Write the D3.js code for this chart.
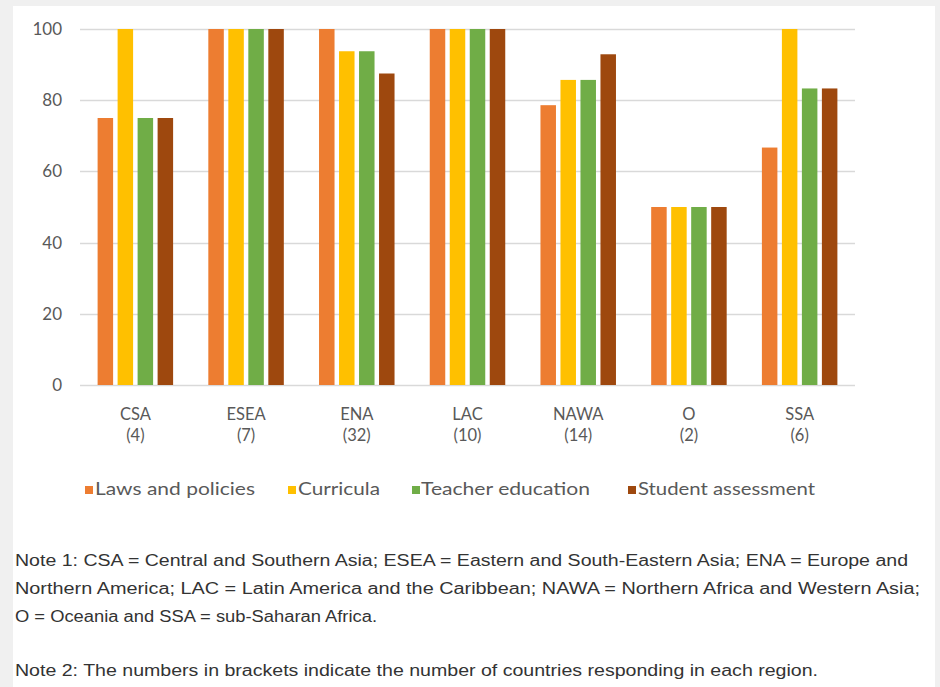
<!DOCTYPE html>
<html>
<head>
<meta charset="utf-8">
<script src="https://cdn.jsdelivr.net/npm/d3@7"></script>
<style>
  html, body { margin: 0; padding: 0; background: #f0f0f0; }
  svg { display: block; }
</style>
</head>
<body>
<svg id="chart" width="940" height="687"></svg>
<script>
// Regions (with number of responding countries) and the four curriculum areas
const regions = ["CSA", "ESEA", "ENA", "LAC", "NAWA", "O", "SSA"];
const respondents = ["(4)", "(7)", "(32)", "(10)", "(14)", "(2)", "(6)"];
const seriesNames = ["Laws and policies", "Curricula", "Teacher education", "Student assessment"];
const seriesColors = ["#ED7D31", "#FFC000", "#70AD47", "#9E480E"];

// Percentage of countries per region, one array per area
const lawsAndPolicies   = [75, 100, 100,   100, 78.6, 50, 66.7];
const curricula         = [100, 100, 93.75, 100, 85.7, 50, 100];
const teacherEducation  = [75, 100, 93.75, 100, 85.7, 50, 83.3];
const studentAssessment = [75, 100, 87.5,  100, 92.9, 50, 83.3];
const seriesValues = [lawsAndPolicies, curricula, teacherEducation, studentAssessment];

const yTicks = [0, 20, 40, 60, 80, 100];

const notes = [
  "Note 1: CSA = Central and Southern Asia; ESEA = Eastern and South-Eastern Asia; ENA = Europe and",
  "Northern America; LAC = Latin America and the Caribbean; NAWA = Northern Africa and Western Asia;",
  "O = Oceania and SSA = sub-Saharan Africa.",
  "Note 2: The numbers in brackets indicate the number of countries responding in each region."
];

const chartFont = "Lato, 'Noto Sans', sans-serif";
const svg = d3.select("#chart");

// white card on a light grey page
svg.append("rect").attr("x", 13).attr("y", 6).attr("width", 922).attr("height", 681).attr("fill", "#ffffff");

const plot = { left: 80, right: 855, top: 29, bottom: 385 };

const x0 = d3.scaleBand().domain(regions).range([plot.left, plot.right]).paddingInner(0).paddingOuter(0);
const x1 = d3.scaleBand().domain(d3.range(seriesNames.length)).range([-40, 40])
  .paddingInner(0.225).paddingOuter(0.1125);
const y = d3.scaleLinear().domain([0, 100]).range([plot.bottom, plot.top]);

// gridlines
svg.append("g").selectAll("line").data(yTicks).join("line")
  .attr("x1", plot.left).attr("x2", plot.right)
  .attr("y1", d => Math.round(y(d)) + 0.5).attr("y2", d => Math.round(y(d)) + 0.5)
  .attr("stroke", "#d9d9d9").attr("stroke-width", 1.3);

// y axis labels
const yAxis = d3.axisLeft(y).tickValues(yTicks).tickSize(0).tickPadding(0);
const yg = svg.append("g").attr("transform", `translate(62,0)`).call(yAxis);
yg.select(".domain").remove();
yg.selectAll("text").attr("font-family", chartFont).attr("font-size", 17)
  .attr("fill", "#595959");

// bars
const groups = svg.append("g").selectAll("g").data(regions).join("g")
  .attr("transform", d => `translate(${x0(d) + x0.bandwidth() / 2},0)`);
groups.selectAll("rect")
  .data((region, i) => seriesValues.map((vals, s) => ({ s, v: vals[i] })))
  .join("rect")
  .attr("x", d => x1(d.s))
  .attr("width", x1.bandwidth())
  .attr("y", d => y(d.v))
  .attr("height", d => y(0) - y(d.v))
  .attr("fill", d => seriesColors[d.s]);

// category labels: region code on the tick, respondent count on a second line
const xAxis = d3.axisBottom(x0).tickSize(0).tickPadding(0);
const xg = svg.append("g").attr("transform", `translate(0,${plot.bottom})`).call(xAxis);
xg.select(".domain").remove();
xg.selectAll(".tick text")
  .attr("y", 35).attr("dy", null)
  .attr("font-family", chartFont).attr("font-size", 16.5)
  .attr("fill", "#595959");
xg.selectAll(".tick").append("text")
  .attr("class", "count")
  .attr("y", 55.5)
  .attr("text-anchor", "middle")
  .attr("font-family", chartFont).attr("font-size", 16.5)
  .attr("fill", "#595959")
  .text((d, i) => respondents[i]);

// legend
const legendItems = [
  { sx: 85, tx: 95, tw: 160 },
  { sx: 288, tx: 298, tw: 82 },
  { sx: 412, tx: 421, tw: 169 },
  { sx: 628, tx: 638, tw: 177 }
];
const legend = svg.append("g");
legend.selectAll("rect").data(seriesNames).join("rect")
  .attr("x", (d, i) => legendItems[i].sx).attr("y", 486)
  .attr("width", 8).attr("height", 8)
  .attr("fill", (d, i) => seriesColors[i]);
legend.selectAll("text").data(seriesNames).join("text")
  .attr("x", (d, i) => legendItems[i].tx).attr("y", 495)
  .attr("textLength", (d, i) => legendItems[i].tw).attr("lengthAdjust", "spacingAndGlyphs")
  .attr("font-family", chartFont).attr("font-size", 17)
  .attr("fill", "#595959")
  .text(d => d);

// notes below the chart
const noteLayout = [
  { y: 566, w: 893 },
  { y: 594, w: 905 },
  { y: 622, w: 362 },
  { y: 676, w: 803 }
];
svg.append("g").selectAll("text").data(notes).join("text")
  .attr("x", 15).attr("y", (d, i) => noteLayout[i].y)
  .attr("textLength", (d, i) => noteLayout[i].w).attr("lengthAdjust", "spacingAndGlyphs")
  .attr("font-family", "'Liberation Sans', Arial, sans-serif").attr("font-size", 16)
  .attr("fill", "#333333")
  .text(d => d);
</script>
</body>
</html>
